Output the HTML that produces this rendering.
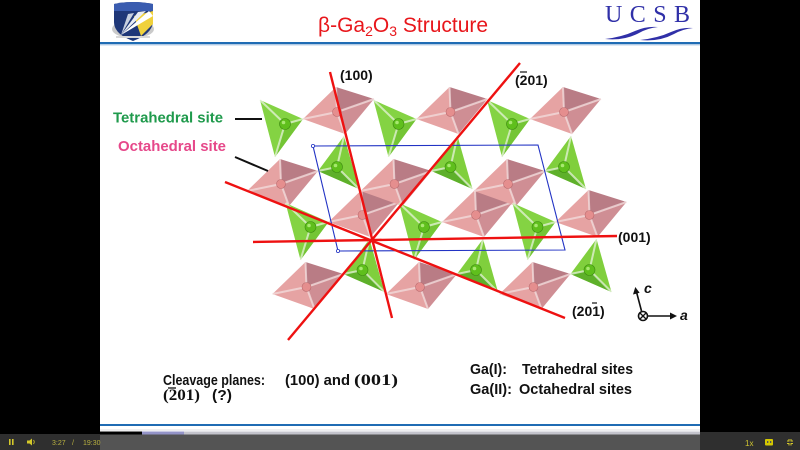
<!DOCTYPE html>
<html><head><meta charset="utf-8"><style>
html,body{margin:0;padding:0;background:#000;width:800px;height:450px;overflow:hidden}
svg{display:block}
</style></head><body>
<svg width="800" height="450" viewBox="0 0 800 450" xmlns="http://www.w3.org/2000/svg" font-family="Liberation Sans, sans-serif">
<defs>
  <g id="oc">
    <polygon points="-37,7 -4,-25 -3,0 5,22" fill="#e6a3a3"/>
    <polygon points="-4,-25 34,-13 -3,0" fill="#b97c85"/>
    <polygon points="34,-13 5,22 -3,0" fill="#cf8e94"/>
    <g stroke="#f3dede" stroke-width="2" opacity="0.75">
      <line x1="-3" y1="0" x2="-37" y2="7"/><line x1="-3" y1="0" x2="-4" y2="-25"/>
      <line x1="-3" y1="0" x2="34" y2="-13"/><line x1="-3" y1="0" x2="5" y2="22"/>
    </g>
    <circle cx="-3" cy="0" r="4.5" fill="#e58e8e" stroke="#b86a6e" stroke-width="0.6"/>
  </g>
  <g id="tA">
    <polygon points="-25,-24 18,-5 -10,33" fill="#84d343"/>
    <polygon points="18,-5 0,0 -10,33" fill="#74c535"/>
    <g stroke="#eef6e6" stroke-width="2" opacity="0.7">
      <line x1="0" y1="0" x2="-25" y2="-24"/><line x1="0" y1="0" x2="18" y2="-5"/><line x1="0" y1="0" x2="-10" y2="33"/>
    </g>
    <circle r="5.5" fill="#5fbf1c" stroke="#3f8d12" stroke-width="0.6"/>
    <circle cx="-1.5" cy="-1.5" r="1.8" fill="#a8e870"/>
  </g>
  <g id="tB">
    <polygon points="-19,4 7,-31 22,22" fill="#80cf3d"/>
    <polygon points="-19,4 0,0 22,22" fill="#5eb02a"/>
    <g stroke="#eef6e6" stroke-width="2" opacity="0.7">
      <line x1="0" y1="0" x2="-19" y2="4"/><line x1="0" y1="0" x2="7" y2="-31"/><line x1="0" y1="0" x2="22" y2="22"/>
    </g>
    <circle r="5.5" fill="#5fbf1c" stroke="#3f8d12" stroke-width="0.6"/>
    <circle cx="-1.5" cy="-1.5" r="1.8" fill="#a8e870"/>
  </g>
</defs>

<rect width="800" height="450" fill="#000"/>
<rect x="100" y="0" width="600" height="432" fill="#fff"/>

<!-- header -->
<rect x="100" y="42" width="600" height="2.2" fill="#1f6cb4"/>
<rect x="100" y="44.5" width="600" height="1" fill="#bcd0e8"/>

<!-- AFRL logo -->
<ellipse cx="133" cy="29" rx="21" ry="9" fill="#cacaca"/>
<path d="M114,4 Q133,0 153,4 L153,22 Q152,34 133,41 Q114,34 114,22 Z" fill="#1f3778"/>
<path d="M114,4 Q133,0 153,4 L153,11 L114,11 Z" fill="#3a5cb0"/>
<polygon points="134,16 153,11 153,24 141,36" fill="#f0d13c"/>
<polygon points="121,35 149,11 153,16" fill="#ffffff"/>
<polygon points="121,35 138,12 146,11" fill="#e8ecf4"/>
<polygon points="121,35 128,14 134,13" fill="#c8d0e0"/>
<rect x="116" y="36" width="34" height="2" fill="#d8d8d8"/>

<!-- title -->
<text x="318" y="32" font-size="21" fill="#e8161b">β-Ga<tspan font-size="14" dy="4">2</tspan><tspan dy="-4">O</tspan><tspan font-size="14" dy="4">3</tspan><tspan dy="-4"> Structure</tspan></text>

<!-- UCSB -->
<text x="605" y="22" font-family="Liberation Serif, serif" font-size="24" fill="#3030a8" textLength="85" lengthAdjust="spacing">UCSB</text>
<path d="M605,39 Q622,37 635,31 Q646,26 658,27 Q648,28 639,33 Q624,41 605,39 Z" fill="#3030a8"/>
<path d="M640,40 Q658,38 671,32 Q682,27 693,28 Q683,29 674,34 Q659,42 640,40 Z" fill="#3030a8"/>

<!-- crystal structure -->
<use href="#oc" x="340" y="112"/><use href="#oc" x="453.5" y="112"/><use href="#oc" x="567" y="112"/>
<use href="#oc" x="365.5" y="215"/><use href="#oc" x="479" y="215"/><use href="#oc" x="592.5" y="215"/>
<use href="#oc" x="284" y="184"/><use href="#oc" x="397.5" y="184"/><use href="#oc" x="511" y="184"/>
<use href="#oc" x="309.5" y="287"/><use href="#oc" x="423" y="287"/><use href="#oc" x="536.5" y="287"/>

<use href="#tA" x="285" y="124"/><use href="#tA" x="398.5" y="124"/><use href="#tA" x="512" y="124"/>
<use href="#tA" x="310.5" y="227"/><use href="#tA" x="424" y="227"/><use href="#tA" x="537.5" y="227"/>
<use href="#tB" x="337" y="167"/><use href="#tB" x="450.5" y="167"/><use href="#tB" x="564" y="167"/>
<use href="#tB" x="362.5" y="270"/><use href="#tB" x="476" y="270"/><use href="#tB" x="589.5" y="270"/>

<!-- unit cell -->
<polygon points="313,146 538,145 565,250 338,251" fill="none" stroke="#2233c4" stroke-width="1.1"/>
<circle cx="313" cy="146" r="1.6" fill="#fff" stroke="#2233c4" stroke-width="0.8"/>
<circle cx="338" cy="251" r="1.6" fill="#fff" stroke="#2233c4" stroke-width="0.8"/>

<!-- cleavage planes -->
<g stroke="#ee1111" stroke-width="2.4" stroke-linecap="butt">
  <line x1="330" y1="72" x2="392" y2="318"/>
  <line x1="520" y1="63" x2="288" y2="340"/>
  <line x1="253" y1="242" x2="617" y2="236"/>
  <line x1="225" y1="182" x2="565" y2="318"/>
</g>

<g font-weight="bold" font-size="14" fill="#111">
  <text x="340" y="80">(100)</text>
  <text x="515" y="85">(201)</text>
  <line x1="520" y1="72" x2="527" y2="72" stroke="#111" stroke-width="1.2"/>
  <text x="618" y="242">(001)</text>
  <text x="572" y="316">(201)</text>
  <line x1="592" y1="303" x2="597" y2="303" stroke="#111" stroke-width="1.2"/>
</g>

<!-- axes -->
<circle cx="643" cy="316" r="4.5" fill="#fff" stroke="#111" stroke-width="1.6"/>
<line x1="640" y1="313" x2="646" y2="319" stroke="#111" stroke-width="1.3"/>
<line x1="646" y1="313" x2="640" y2="319" stroke="#111" stroke-width="1.3"/>
<line x1="648" y1="316" x2="672" y2="316" stroke="#111" stroke-width="1.6"/>
<polygon points="677,316 670,312.5 670,319.5" fill="#111"/>
<line x1="641.5" y1="311" x2="636.5" y2="292" stroke="#111" stroke-width="1.6"/>
<polygon points="635.3,287 633,294.5 639.6,292.8" fill="#111"/>
<text x="680" y="320" font-size="14" font-weight="bold" font-style="italic" fill="#111">a</text>
<text x="644" y="293" font-size="14" font-weight="bold" font-style="italic" fill="#111">c</text>

<!-- site labels -->
<text x="113" y="122.5" font-size="15" font-weight="bold" fill="#1f9a4c" textLength="110" lengthAdjust="spacingAndGlyphs">Tetrahedral site</text>
<text x="118" y="151" font-size="15" font-weight="bold" fill="#e6488a" textLength="108" lengthAdjust="spacingAndGlyphs">Octahedral site</text>
<line x1="235" y1="119" x2="262" y2="119" stroke="#111" stroke-width="2"/>
<line x1="235" y1="157" x2="268" y2="171" stroke="#111" stroke-width="2"/>

<!-- bottom text -->
<g font-weight="bold" fill="#111" font-size="15">
  <text x="163" y="385" textLength="102" lengthAdjust="spacingAndGlyphs">Cleavage planes:</text>
  <text x="285" y="385" textLength="65" lengthAdjust="spacingAndGlyphs">(100) and</text>
  <text x="354" y="385" font-family="Liberation Serif, serif" font-size="16" textLength="44" lengthAdjust="spacingAndGlyphs">(001)</text>
  <text x="163" y="400" font-family="Liberation Serif, serif" font-size="16" textLength="37" lengthAdjust="spacingAndGlyphs">(201)</text>
  <line x1="168" y1="388" x2="176" y2="388" stroke="#111" stroke-width="1.3"/>
  <text x="212" y="400" textLength="20" lengthAdjust="spacingAndGlyphs">(?)</text>
  <text x="470" y="374" textLength="37" lengthAdjust="spacingAndGlyphs">Ga(I):</text>
  <text x="522" y="374" textLength="111" lengthAdjust="spacingAndGlyphs">Tetrahedral sites</text>
  <text x="470" y="394" textLength="42" lengthAdjust="spacingAndGlyphs">Ga(II):</text>
  <text x="519" y="394" textLength="113" lengthAdjust="spacingAndGlyphs">Octahedral sites</text>
</g>

<!-- slide bottom line -->
<rect x="100" y="424" width="600" height="2" fill="#1f6cb4"/>
<rect x="100" y="429.5" width="600" height="1" fill="#dcdce0"/>

<!-- progress bar -->
<rect x="100" y="431.5" width="600" height="3" fill="#c4c4cc"/>
<rect x="100" y="431.5" width="42" height="3" fill="#000"/>
<rect x="142" y="431.5" width="42" height="3" fill="#9494c8"/>

<!-- control bar -->
<rect x="0" y="434" width="100" height="16" fill="#2f2f2f"/>
<rect x="700" y="432" width="100" height="18" fill="#2f2f2f"/>
<rect x="100" y="434.5" width="600" height="15.5" fill="#545454"/>
<rect x="9" y="439" width="1.6" height="6" fill="#d4c82a"/>
<rect x="12" y="439" width="1.6" height="6" fill="#d4c82a"/>
<polygon points="27,440.5 29.5,440.5 32,438.5 32,445.5 29.5,443.5 27,443.5" fill="#d4c82a"/>
<path d="M33.5,440 Q35,442 33.5,444" fill="none" stroke="#d4c82a" stroke-width="0.8"/>
<g font-size="7" fill="#b8b040">
  <text x="52" y="445">3:27</text>
  <text x="72" y="445">/</text>
  <text x="83" y="445">19:30</text>
</g>
<text x="745" y="446" font-size="8" fill="#cfc430">1x</text>
<rect x="765" y="439" width="8" height="6.5" rx="1" fill="#d4c800"/>
<rect x="767" y="441" width="1.3" height="2" fill="#555"/>
<rect x="770" y="441" width="1.3" height="2" fill="#555"/>
<g stroke="#d4c82a" stroke-width="1" fill="none">
  <path d="M787,441 L789,441 L789,439"/><path d="M793,441 L791,441 L791,439"/>
  <path d="M787,443.5 L789,443.5 L789,445.5"/><path d="M793,443.5 L791,443.5 L791,445.5"/>
</g>
</svg>
</body></html>
